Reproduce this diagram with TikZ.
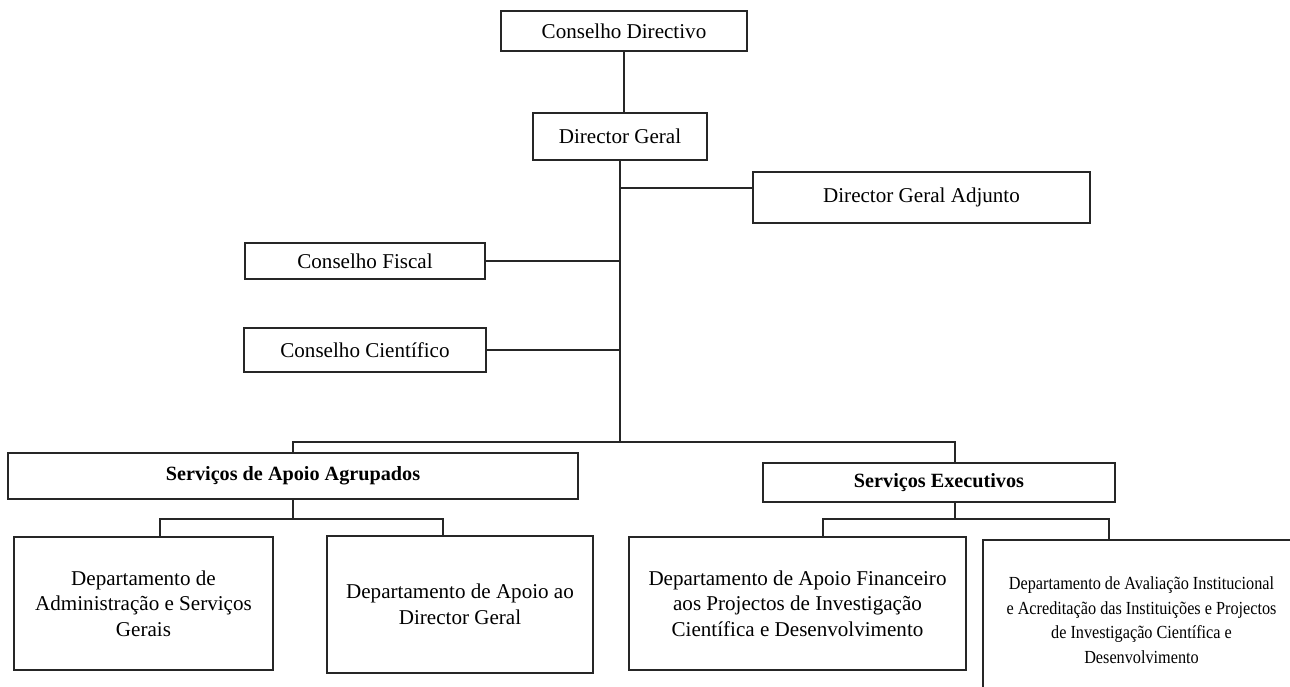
\documentclass[tikz,border=0pt]{standalone}
\usepackage{fontspec}
\setmainfont{Liberation Serif}
\newfontfamily\narrowfont[FakeStretch=0.88]{Liberation Serif}

\begin{document}
\begin{tikzpicture}
  [x=0.02cm, y=-0.02cm,
   box/.style={draw=black!85, line width=0.8pt, align=center, inner sep=2pt,
     font=\fontsize{12}{14.5}\selectfont},
   groupbox/.style={box, font=\bfseries\fontsize{11.5}{14}\selectfont},
   smallbox/.style={box, font=\narrowfont\fontsize{10.5}{14}\selectfont},
   link/.style={draw=black!85, line width=0.8pt}]
  \clip (0,0) rectangle (1290,686);

  \node[box, minimum width=4.92cm, minimum height=0.80cm] (cd) at (624,31) {Conselho Directivo};
  \node[box, minimum width=3.48cm, minimum height=0.94cm] (dg) at (620,136.5) {Director Geral};
  \node[box, minimum width=6.74cm, minimum height=1.02cm] (dga) at (921.5,197.5) {Director Geral Adjunto};
  \node[box, minimum width=4.80cm, minimum height=0.72cm] (cf) at (365,261) {Conselho Fiscal};
  \node[box, minimum width=4.84cm, minimum height=0.88cm] (cc) at (365,350) {Conselho Científico};

  \node[groupbox, minimum width=11.40cm, minimum height=0.92cm] (sa) at (293,476) {Serviços de Apoio Agrupados};
  \node[groupbox, minimum width=7.04cm, minimum height=0.78cm] (se) at (939,482.5) {Serviços Executivos};

  \node[box, minimum width=5.18cm, minimum height=2.66cm] (dasg) at (143.5,603.5)
    {Departamento de\\Administração e Serviços\\Gerais};
  \node[box, minimum width=5.32cm, minimum height=2.74cm] (dadg) at (460,604.5)
    {Departamento de Apoio ao\\Director Geral};
  \node[box, minimum width=6.74cm, minimum height=2.66cm] (daf) at (797.5,603.5)
    {Departamento de Apoio Financeiro\\aos Projectos de Investigação\\Científica e Desenvolvimento};
  \node[smallbox, minimum width=6.34cm, minimum height=3.20cm] (dai) at (1141.5,620)
    {Departamento de Avaliação Institucional\\e Acreditação das Instituições e Projectos\\de Investigação Científica e\\Desenvolvimento};

  % trunk
  \coordinate (t) at (620,442);
  \coordinate (k) at (620,188);
  \draw[link] (cd.south) -- (cd.south |- dg.north);
  \draw[link] (dg.south) -- (t);
  \draw[link] (dga.west |- k) -- (k);
  \draw[link] (cf.east) -- (cf.east -| t);
  \draw[link] (cc.east) -- (cc.east -| t);

  \coordinate (sl) at (293,442);
  \coordinate (sr) at (955,442);
  \draw[link] (sa.north) -- (sl) -- (sr) -- (sr |- se.north);

  % lower branches
  \coordinate (a) at (293,519);
  \coordinate (a1) at (160,519);
  \coordinate (a2) at (443,519);
  \draw[link] (sa.south) -- (a);
  \draw[link] (a1 |- dasg.north) -- (a1) -- (a2) -- (a2 |- dadg.north);

  \coordinate (b) at (955,519);
  \coordinate (b1) at (823,519);
  \coordinate (b2) at (1109,519);
  \draw[link] (se.south -| b) -- (b);
  \draw[link] (b1 |- daf.north) -- (b1) -- (b2) -- (b2 |- dai.north);

\end{tikzpicture}
\end{document}
